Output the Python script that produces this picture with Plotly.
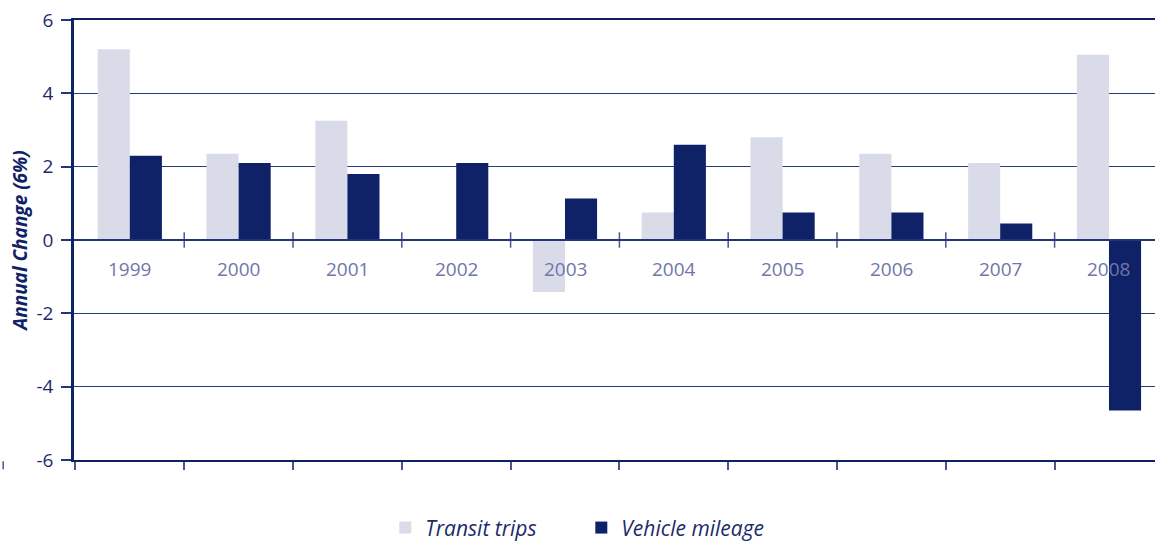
import plotly.graph_objects as go

years = ["1999", "2000", "2001", "2002", "2003", "2004", "2005", "2006", "2007", "2008"]
transit_trips = [5.2, 2.35, 3.25, 0.0, -1.42, 0.75, 2.8, 2.35, 2.1, 5.05]
vehicle_mileage = [2.3, 2.1, 1.8, 2.1, 1.13, 2.6, 0.75, 0.75, 0.45, -4.65]
y_ticks = [-6, -4, -2, 0, 2, 4, 6]
y_tick_text = ["-6", "-4", "-2", "0", "2", "4", "6"]

NAVY = "#0f2267"
LIGHT = "#d9dbe9"
LABEL = "#7076a8"
TEXT = "#1c2a6c"

xs = list(range(len(years)))

fig = go.Figure()
fig.add_trace(go.Bar(x=xs, y=transit_trips, name="Transit trips",
                     marker=dict(color=LIGHT, line=dict(width=0))))
fig.add_trace(go.Bar(x=xs, y=vehicle_mileage, name="Vehicle mileage",
                     marker=dict(color=NAVY, line=dict(width=0))))

# category labels just below the zero line
for i, yr in enumerate(years):
    fig.add_annotation(x=i, y=-0.78, text=yr, showarrow=False,
                       xref="x", yref="y",
                       font=dict(family="Open Sans", size=19, color=LABEL))

# tick marks crossing the zero line at category boundaries
shapes = []
for i in range(len(years)):
    b = i + 0.5
    if b < 9.4:
        shapes.append(dict(type="line", xref="x", yref="y", x0=b, x1=b,
                           y0=-0.21, y1=0.21, line=dict(color="#4a5690", width=1.5)))
# zero line
shapes.append(dict(type="line", xref="paper", yref="y", x0=0, x1=1, y0=0, y1=0,
                   line=dict(color="#24337a", width=2)))
# small stray mark at bottom-left
shapes.append(dict(type="line", xref="paper", yref="paper", x0=-0.0655, x1=-0.0655,
                   y0=-0.003, y1=-0.021, line=dict(color="#4a5690", width=1.5)))
fig.update_layout(shapes=shapes)

fig.update_layout(
    width=1155, height=542,
    margin=dict(l=74, r=0, t=20, b=82, autoexpand=False),
    paper_bgcolor="white", plot_bgcolor="white",
    barmode="group", bargap=0.41, bargroupgap=0,
    xaxis=dict(range=[-0.513, 9.423], showgrid=False, zeroline=False, automargin=False,
               tickmode="array", tickvals=[i - 0.5 for i in range(10)],
               ticktext=[""] * 10, ticks="outside", ticklen=8, tickwidth=1.5,
               tickcolor="#4a5690",
               showline=True, linecolor=NAVY, linewidth=2, mirror=True),
    yaxis=dict(range=[-6, 6], tickmode="array", tickvals=y_ticks, ticktext=y_tick_text,
               ticks="outside", ticklen=10, automargin=False,
               tickwidth=1.5, tickcolor="#24337a",
               showgrid=True, gridcolor="#2b3a7c", gridwidth=1.3,
               zeroline=False, showline=True, linecolor=NAVY, linewidth=2.5,
               ticklabelstandoff=4,
               tickfont=dict(family="Open Sans", size=19, color=TEXT),
               title=dict(text="<b><i>Annual Change (6%)</i></b>", standoff=4,
                          font=dict(family="Open Sans", size=19, color=NAVY))),
    legend=dict(orientation="h", xref="container", yref="container",
                x=0.3336, xanchor="left", y=0.026, yanchor="middle",
                font=dict(family="Open Sans", size=21, color=TEXT, style="italic"),
                itemsizing="constant", bgcolor="rgba(0,0,0,0)",
                entrywidth=151, entrywidthmode="pixels"),
    showlegend=True,
)

fig.write_html("out.html", config={"displayModeBar": False},
               post_script="document.body.style.margin='0px';document.body.style.padding='0px';")
